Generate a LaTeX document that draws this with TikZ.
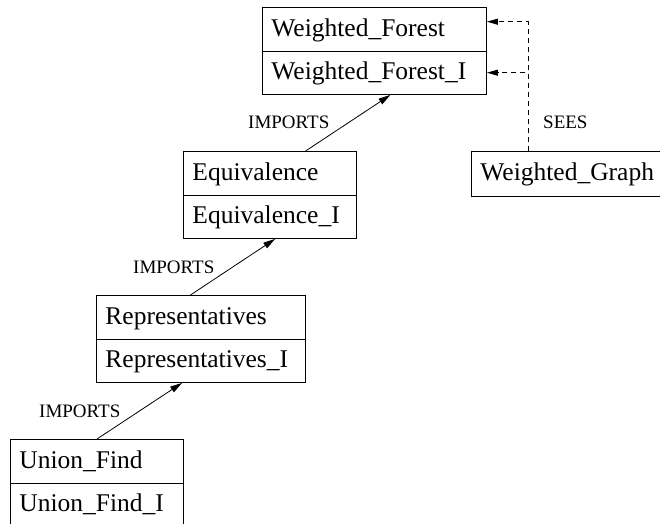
\documentclass[tikz,border=0pt]{standalone}
\usepackage{fontspec}
\setmainfont{Liberation Serif}
\usetikzlibrary{arrows.meta,calc}
\begin{document}
\begin{tikzpicture}[x=1pt,y=-1pt,
  part/.style={draw, line width=0.9pt, rectangle, inner xsep=9pt, inner ysep=0pt,
    minimum height=43.5pt, text height=19pt, text depth=5pt, align=left, anchor=north west,
    font=\fontsize{25.5}{30}\selectfont},
  lbl/.style={inner sep=0pt, anchor=base west, font=\fontsize{19}{22}\selectfont},
  imports/.style={line width=0.8pt, -{Triangle[length=12pt,width=6.5pt]}},
  sees/.style={line width=0.8pt, dash pattern=on 5pt off 4pt, -{Triangle[length=11pt,width=6pt]}}]
\useasboundingbox (0,0) rectangle (660,523);
% Weighted_Forest machine and its implementation
\node[part, text width=206pt] (wf)  at (262,7)    {Weighted\_Forest};
\node[part, text width=206pt] (wfi) at (262,50.5) {Weighted\_Forest\_I};
% Weighted_Graph (runs past the right edge)
\node[part, text width=175pt, minimum height=45pt] (wg) at (471,151) {Weighted\_Graph};
% Equivalence
\node[part, text width=155pt] (eq)  at (183,151)   {Equivalence};
\node[part, text width=155pt] (eqi) at (183,194.5) {Equivalence\_I};
% Representatives
\node[part, text width=191pt] (rp)  at (96,295)   {Representatives};
\node[part, text width=191pt] (rpi) at (96,338.5) {Representatives\_I};
% Union_Find
\node[part, text width=155pt] (uf)  at (10,439)   {Union\_Find};
\node[part, text width=155pt] (ufi) at (10,482.5) {Union\_Find\_I};
% IMPORTS links
\draw[imports] ($(eq.north west)!0.705!(eq.north east)$) -- ($(wfi.south west)!0.571!(wfi.south east)$);
\draw[imports] ($(rp.north west)!0.45!(rp.north east)$) -- ($(eqi.south west)!0.53!(eqi.south east)$);
\draw[imports] ($(uf.north west)!0.5!(uf.north east)$) -- ($(rpi.south west)!0.41!(rpi.south east)$);
\node[lbl] (l1) at (248,128) {IMPORTS};
\node[lbl] (l2) at (133,273) {IMPORTS};
\node[lbl] (l3) at (39,417) {IMPORTS};
% SEES links
\coordinate (sx) at (528,151);
\draw[sees] (sx) |- ($(wf.east)+(0,-7.5)$);
\draw[sees] (sx) |- (wfi.east);
\node[lbl] (l4) at (543,128) {SEES};
\end{tikzpicture}
\end{document}
